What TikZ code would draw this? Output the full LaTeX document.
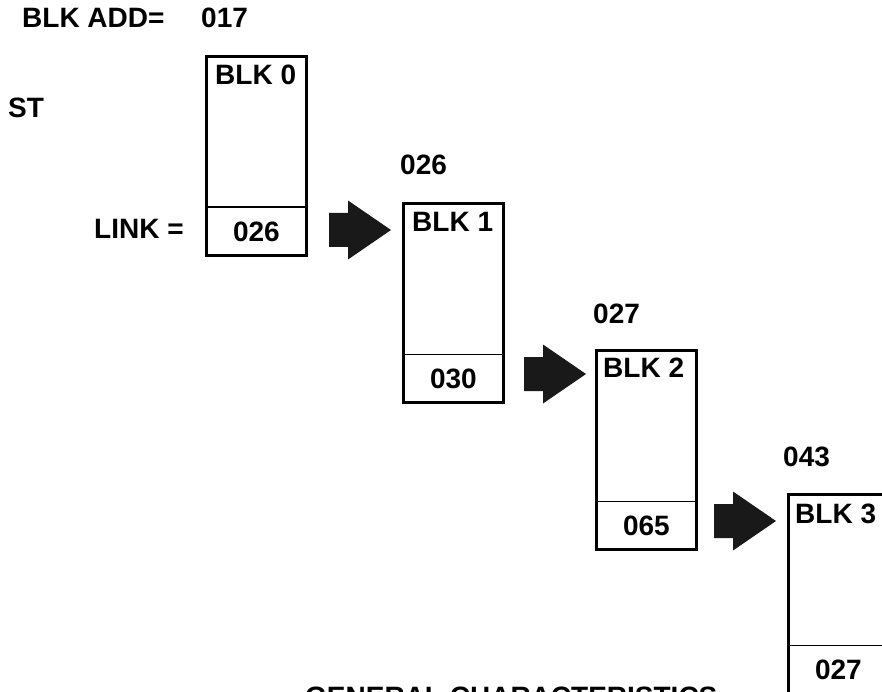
\documentclass[tikz,border=0pt]{standalone}
\usepackage{fontspec}
\newfontfamily\hvfont{Liberation Sans}
\begin{document}
\begin{tikzpicture}[x=1pt,y=-1pt,
  txt/.style={font=\hvfont\bfseries\fontsize{28}{30}\selectfont, inner sep=0pt, anchor=base west},
  blkbox/.style={draw, line width=2.8pt, minimum width=100pt, minimum height=199pt, anchor=north west, inner sep=0pt},
  linkbox/.style={minimum width=100pt, minimum height=49pt, anchor=south, inner sep=0pt, font=\hvfont\bfseries\fontsize{28}{30}\selectfont},
  divider/.style={line width=1.8pt},
  arrowfill/.style={fill=black!90}]
\useasboundingbox (0,0) rectangle (882,692);
\clip (0,0) rectangle (882,692);
% header texts
\node[txt] (hdr) at (22,28) {BLK ADD=};
\node[txt] (addr0) at (201,28) {017};
\node[txt] (st) at (8,118) {ST};
\node[txt] (link) at (94,239) {LINK =};
% blocks
\node[blkbox] (b0) at (205,55) {};
\node[linkbox] (l0) at (b0.south) {026};
\draw[divider] (l0.north west) -- (l0.north east);
\node[txt] (t0) at ([shift={(10,30)}]b0.north west) {BLK 0};

\node[blkbox] (b1) at (402,202) {};
\node[linkbox] (l1) at (b1.south) {030};
\draw[divider] (l1.north west) -- (l1.north east);
\node[txt] (t1) at ([shift={(10,30)}]b1.north west) {BLK 1};
\node[txt] (addr1) at ([shift={(-2,-27)}]b1.north west) {026};

\node[blkbox] (b2) at (595,349) {};
\node[linkbox] (l2) at (b2.south) {065};
\draw[divider] (l2.north west) -- (l2.north east);
\node[txt] (t2) at ([shift={(8,28)}]b2.north west) {BLK 2};
\node[txt] (addr2) at ([shift={(-2,-26)}]b2.north west) {027};

\node[blkbox] (b3) at (787,493) {};
\node[linkbox] (l3) at (b3.south) {027};
\draw[divider] (l3.north west) -- (l3.north east);
\node[txt] (t3) at ([shift={(8,30)}]b3.north west) {BLK 3};
\node[txt] (addr3) at ([shift={(-4,-27)}]b3.north west) {043};

% block arrows
\coordinate (a1) at (391,230);
\coordinate (a2) at (586,374);
\coordinate (a3) at (776,521);
\foreach \t in {a1,a2,a3}{
  \fill[arrowfill] (\t) -- ++(-43,-29.5) -- ++(0,12.5) -- ++(-19,0) -- ++(0,34) -- ++(19,0) -- ++(0,12.5) -- cycle;
}
% bottom caption (cut off at the lower edge, as in the reference)
\node[txt] (cap) at (305,706) {GENERAL CHARACTERISTICS};
\end{tikzpicture}
\end{document}
